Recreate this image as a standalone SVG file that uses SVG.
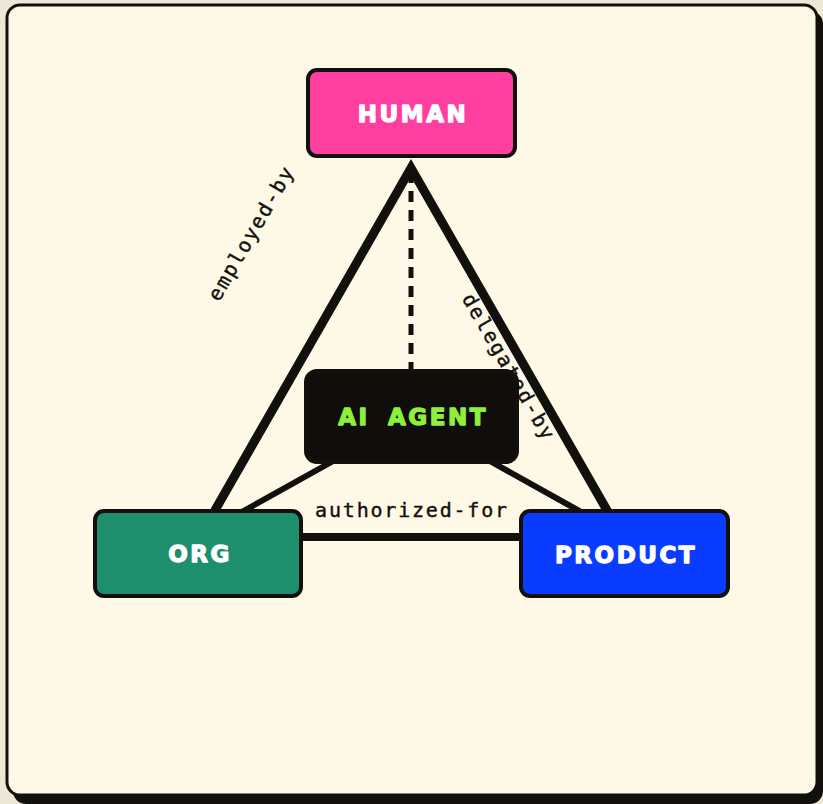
<svg xmlns="http://www.w3.org/2000/svg" width="823" height="804" viewBox="0 0 823 804">
<style>
.node rect{stroke:#12100c;stroke-width:4}
.nl{font-family:"DejaVu Sans",sans-serif;font-weight:bold;font-size:23px;letter-spacing:2.5px;text-anchor:middle;dominant-baseline:central;stroke-width:1.3;stroke-linejoin:round}
.edge{stroke:#12100c;fill:none}
.el{font-family:"DejaVu Sans Mono","Liberation Mono",monospace;font-size:20px;letter-spacing:1.8px;fill:#12100c;stroke:#12100c;stroke-width:0.4;text-anchor:middle;dominant-baseline:central}
</style>
<rect x="0" y="0" width="823" height="804" fill="#ede7d6"/>
<rect x="13" y="11" width="810" height="793" rx="13" fill="#12100c"/>
<rect x="7" y="5" width="810" height="790" rx="13" fill="#fef8e7" stroke="#12100c" stroke-width="3"/>
<g id="connectors">
<polyline class="edge" points="214,512 411,168 608,512" stroke-width="9" stroke-linejoin="miter"/>
<line class="edge" x1="411" y1="172" x2="411" y2="371" stroke-width="5" stroke-dasharray="11,8"/>
<line class="edge" x1="335" y1="460" x2="240" y2="513" stroke-width="6"/>
<line class="edge" x1="488" y1="460" x2="583" y2="513" stroke-width="6"/>
<line class="edge" x1="302" y1="537" x2="520" y2="537" stroke-width="8"/>
<text class="el" transform="translate(251,233) rotate(-60)">employed-by</text>
<text class="el" transform="translate(509,367) rotate(60)">delegated-by</text>
<text class="el" x="412" y="510">authorized-for</text>
</g>
<g id="human" class="node">
<rect x="308" y="70" width="207" height="86" rx="9" fill="#ff3fa0"/>
<text class="nl" x="413" y="114" fill="#ffffff" stroke="#ffffff">HUMAN</text>
</g>
<g id="ai-agent" class="node">
<rect x="306" y="371" width="211" height="91" rx="11" fill="#0f0e0a" stroke="none"/>
<text class="nl" x="413" y="417" fill="#8ef03a" stroke="#8ef03a" word-spacing="8">AI AGENT</text>
</g>
<g id="org" class="node">
<rect x="95" y="511" width="206" height="85" rx="9" fill="#1e8f6c"/>
<text class="nl" x="200" y="554" fill="#ffffff" stroke="#ffffff">ORG</text>
</g>
<g id="product" class="node">
<rect x="521" y="511" width="207" height="85" rx="9" fill="#0a3cff"/>
<text class="nl" x="626" y="555" fill="#ffffff" stroke="#ffffff">PRODUCT</text>
</g>
</svg>
